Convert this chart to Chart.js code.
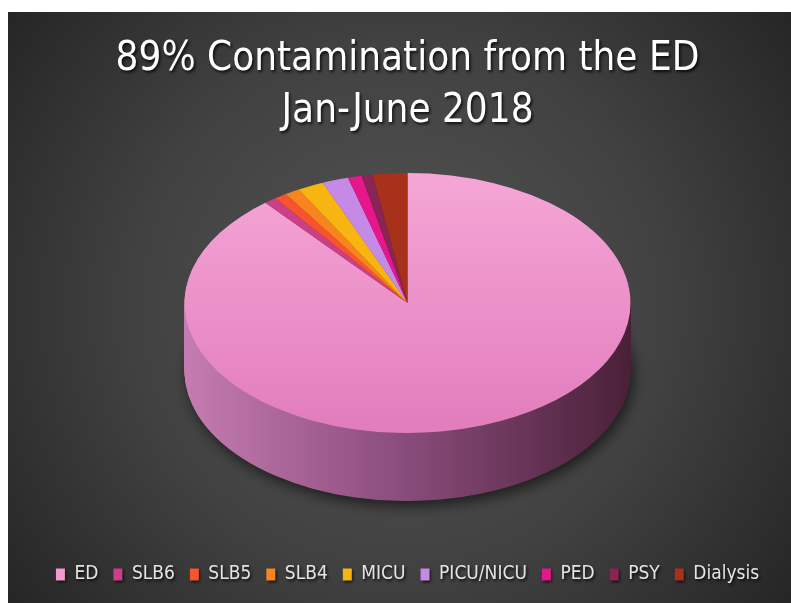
<!DOCTYPE html>
<html>
<head>
<meta charset="utf-8">
<script src="https://cdn.jsdelivr.net/npm/chart.js@4/dist/chart.umd.min.js"></script>
<style>
  html, body { margin: 0; padding: 0; background: #fff; }
  #wrap { position: absolute; left: 8px; top: 12px; width: 783px; height: 591px; }
</style>
</head>
<body>
<div id="wrap"><canvas id="pieChart" width="783" height="591"></canvas></div>
<script>
// chart data
const categories = ['ED', 'SLB6', 'SLB5', 'SLB4', 'MICU', 'PICU/NICU', 'PED', 'PSY', 'Dialysis'];
const shares = [89, 0.9, 0.9, 1.1, 1.9, 1.9, 1.0, 0.8, 2.5];
const titleLines = ['89% Contamination from the ED', 'Jan-June 2018'];

const topColors = ['#f29ad0', '#cc3f86', '#f5542f', '#f7841d', '#f7b512', '#c58ae6', '#e6178b', '#8a2454', '#a8311c'];
const FONT = "'DejaVu Sans Condensed', 'DejaVu Sans', sans-serif";
const tilt = 0.583;     // vertical squash of the pie
const depth = 68;       // thickness of the pie in screen px

function darken(hex, f) {
    const n = parseInt(hex.slice(1), 16);
    const r = Math.round(((n >> 16) & 255) * f);
    const g = Math.round(((n >> 8) & 255) * f);
    const b = Math.round((n & 255) * f);
    return `rgb(${r}, ${g}, ${b})`;
}

function sideFill(ctx, arc, i) {
    if (i !== 0) return darken(topColors[i], 0.55);
    const R = arc.outerRadius;
    const g = ctx.createLinearGradient(arc.x - R, 0, arc.x + R, 0);
    g.addColorStop(0, '#c67cb0');
    g.addColorStop(0.45, '#8e5080');
    g.addColorStop(1, '#4a2038');
    return g;
}

// background, shadows and the extruded side of the pie
const pie3d = {
    id: 'pie3d',
    beforeDraw(chart) {
        const { ctx, width, height } = chart;
        const bg = ctx.createRadialGradient(width / 2, height * 0.5, 0, width / 2, height * 0.5, width * 0.62);
        bg.addColorStop(0, '#555555');
        bg.addColorStop(0.55, '#414141');
        bg.addColorStop(1, '#262626');
        ctx.fillStyle = bg;
        ctx.fillRect(0, 0, width, height);
        // soft text shadow for title and legend
        ctx.shadowColor = 'rgba(0, 0, 0, 0.8)';
        ctx.shadowBlur = 3;
        ctx.shadowOffsetX = 1.5;
        ctx.shadowOffsetY = 1.5;
    },
    beforeDatasetsDraw(chart) {
        const ctx = chart.ctx;
        ctx.shadowColor = 'transparent';
        ctx.shadowBlur = 0;
        ctx.shadowOffsetX = 0;
        ctx.shadowOffsetY = 0;
        const arcs = chart.getDatasetMeta(0).data;
        if (!arcs.length) return;
        const a0 = arcs[0];
        const cy = chart.chartArea.top + a0.outerRadius * tilt;
        ctx.save();
        ctx.translate(0, cy);
        ctx.scale(1, tilt);
        ctx.translate(0, -a0.y);
        for (let d = depth; d >= 1; d--) {
            ctx.save();
            ctx.translate(0, d / tilt);
            if (d === depth) {
                ctx.shadowColor = 'rgba(0, 0, 0, 0.6)';
                ctx.shadowBlur = 14;
                ctx.shadowOffsetX = 3;
                ctx.shadowOffsetY = 5;
            }
            arcs.forEach((arc, i) => {
                const side = Object.create(arc);
                side.options = Object.assign({}, arc.options, {
                    backgroundColor: sideFill(ctx, arc, i),
                    borderWidth: 0
                });
                side.draw(ctx);
            });
            ctx.restore();
        }
        // top faces are drawn by Chart.js inside this squashed space
    },
    afterDatasetsDraw(chart) {
        if (chart.getDatasetMeta(0).data.length) chart.ctx.restore();
    }
};

function topFill(c) {
    const i = c.dataIndex;
    const area = c.chart.chartArea;
    if (i !== 0 || !area) return topColors[i];
    const cy = (area.top + area.bottom) / 2;
    const R = 223;
    const g = c.chart.ctx.createLinearGradient(0, cy - R, 0, cy + R);
    g.addColorStop(0, '#f5a6d6');
    g.addColorStop(1, '#e27cbc');
    return g;
}

new Chart(document.getElementById('pieChart'), {
    type: 'pie',
    data: {
        labels: categories,
        datasets: [{
            data: shares,
            backgroundColor: topFill,
            borderWidth: 0,
            radius: 223
        }]
    },
    options: {
        responsive: false,
        animation: false,
        events: [],
        layout: {
            padding: { left: 16, right: 0, top: 0, bottom: 9 }
        },
        plugins: {
            title: {
                display: true,
                text: titleLines,
                color: '#ffffff',
                font: { family: FONT, size: 40, weight: 'normal', lineHeight: 1.3 },
                padding: { top: 22, bottom: 35 }
            },
            legend: {
                position: 'bottom',
                labels: {
                    color: '#e4e4e4',
                    font: { family: FONT, size: 19 },
                    boxWidth: 9,
                    boxHeight: 12,
                    padding: 15,
                    generateLabels: () => categories.map((c, i) => ({
                        text: c,
                        fillStyle: topColors[i],
                        strokeStyle: topColors[i],
                        lineWidth: 0,
                        hidden: false,
                        index: i,
                        fontColor: '#e4e4e4'
                    }))
                }
            },
            tooltip: { enabled: false }
        }
    },
    plugins: [pie3d]
});
</script>
</body>
</html>
